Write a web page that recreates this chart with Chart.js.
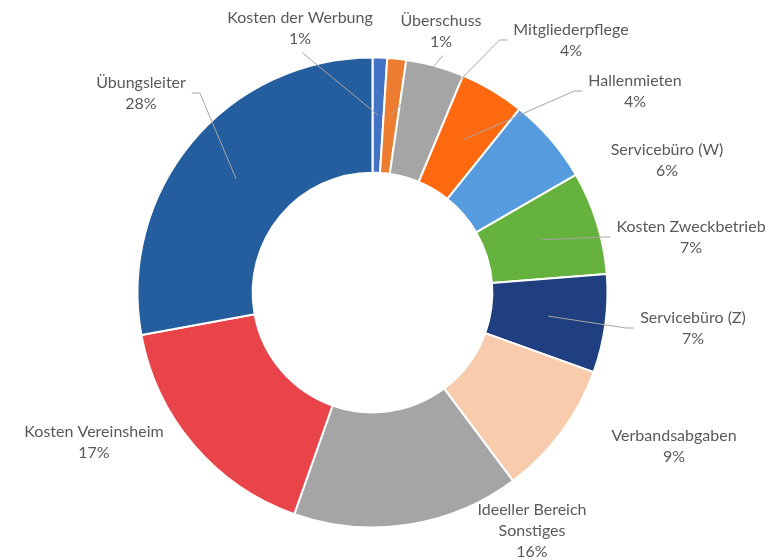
<!DOCTYPE html>
<html>
<head>
<meta charset="utf-8">
<script src="https://cdn.jsdelivr.net/npm/chart.js@4.4.1/dist/chart.umd.min.js"></script>
<style>
    html, body { margin: 0; padding: 0; background: #ffffff; }
    #wrap { width: 776px; height: 560px; }
</style>
</head>
<body>
<div id="wrap"><canvas id="costChart" width="776" height="560"></canvas></div>
<script>
// Categories in clockwise order starting at 12 o'clock
const categories = [
    'Kosten der Werbung',
    'Überschuss',
    'Mitgliederpflege',
    'Hallenmieten',
    'Servicebüro (W)',
    'Kosten Zweckbetrieb',
    'Servicebüro (Z)',
    'Verbandsabgaben',
    ['Ideeller Bereich', 'Sonstiges'],
    'Kosten Vereinsheim',
    'Übungsleiter'
];

// Shares in percent
const shares = [1.0, 1.3, 4.0, 4.45, 5.9, 7.1, 6.75, 9.3, 15.6, 16.7, 27.9];

const sliceColors = [
    '#4472C4', '#ED7D31', '#A5A5A5', '#FF6A10', '#559BDE', '#66B23E',
    '#1F3F80', '#F8CBAD', '#A5A5A5', '#E8444A', '#255E9E'
];

// Label placement: centre of each text block and where its leader line leaves it
// side: 'left' / 'right' = leader leaves from that side, 'bottom' = from below, null = no leader
const labelLayout = [
    { x: 300, y: 28, side: 'bottom' },
    { x: 441, y: 31, side: 'bottom' },
    { x: 571, y: 40, side: 'left' },
    { x: 635, y: 91, side: 'left' },
    { x: 667, y: 160, side: null },
    { x: 691, y: 237, side: 'left' },
    { x: 693, y: 328, side: 'left' },
    { x: 674, y: 446, side: null },
    { x: 532, y: 531, side: null },
    { x: 94, y: 442, side: null },
    { x: 141, y: 93, side: 'right' }
];

const FONT = '16px Lato';
const LINE_H = 21;

const outsideLabels = {
    id: 'outsideLabels',
    afterDatasetsDraw(chart) {
        const ctx = chart.ctx;
        const meta = chart.getDatasetMeta(0);
        const data = chart.data.datasets[0].data;
        const total = data.reduce((a, b) => a + b, 0);

        ctx.save();
        ctx.font = FONT;
        meta.data.forEach((arc, i) => {
            const name = chart.data.labels[i];
            const lines = (Array.isArray(name) ? name.slice() : [name]);
            lines.push(Math.round(data[i] / total * 100) + '%');
            const lay = labelLayout[i];
            const blockH = (lines.length - 1) * LINE_H;
            const widest = Math.max(...lines.map(l => ctx.measureText(l).width));

            // leader line to the middle of the slice
            if (lay.side) {
                const p = arc.getProps(['x', 'y', 'startAngle', 'endAngle', 'innerRadius', 'outerRadius'], true);
                const a = (p.startAngle + p.endAngle) / 2;
                const r = (p.innerRadius + p.outerRadius) / 2;
                const tx = p.x + r * Math.cos(a);
                const ty = p.y + r * Math.sin(a);
                ctx.strokeStyle = '#A6A6A6';
                ctx.lineWidth = 1;
                ctx.beginPath();
                if (lay.side === 'bottom') {
                    ctx.moveTo(lay.x + 2, lay.y + blockH / 2 + 14);
                } else {
                    const dir = lay.side === 'left' ? -1 : 1;
                    const sx = lay.x + dir * (widest / 2 + 6);
                    ctx.moveTo(sx, lay.y);
                    ctx.lineTo(sx + dir * 8, lay.y);
                }
                ctx.lineTo(tx, ty);
                ctx.stroke();
            }

            ctx.fillStyle = '#595959';
            ctx.textAlign = 'center';
            ctx.textBaseline = 'middle';
            lines.forEach((l, k) => {
                ctx.fillText(l, lay.x, lay.y - blockH / 2 + k * LINE_H);
            });
        });
        ctx.restore();
    }
};

new Chart(document.getElementById('costChart').getContext('2d'), {
    type: 'doughnut',
    data: {
        labels: categories,
        datasets: [{
            data: shares,
            backgroundColor: sliceColors,
            borderColor: '#ffffff',
            borderWidth: 2
        }]
    },
    options: {
        responsive: false,
        animation: false,
        cutout: '51%',
        layout: {
            padding: { top: 56.5, bottom: 31.5, left: 136.5, right: 167.5 }
        },
        plugins: {
            legend: { display: false },
            tooltip: { enabled: false }
        }
    },
    plugins: [outsideLabels]
});
</script>
</body>
</html>
